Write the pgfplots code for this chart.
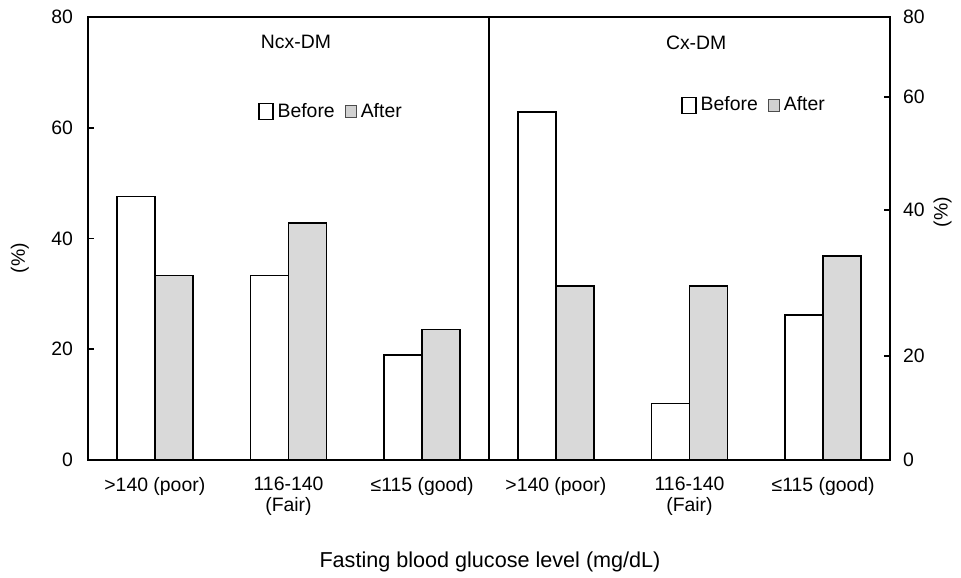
\documentclass[border=0pt]{standalone}
\usepackage{fontspec}
\setmainfont{Liberation Sans}
\usepackage{pgfplots}
\pgfplotsset{compat=1.18}
\newcommand{\tf}{\fontsize{9.7}{10.5}\selectfont}
\begin{document}
\begin{tikzpicture}
\pgfplotsset{
  panel/.style={
    width=200.5pt, height=221.5pt, scale only axis,
    xmin=-0.5, xmax=2.5, ymin=0, ymax=80,
    ybar=0pt, bar width=19pt,
    xtick={0,1,2},
    xticklabels={{>140 (poor)},{116-140\\(Fair)},{≤115 (good)}},
    xticklabel style={align=center, font=\fontsize{9.7}{10.5}\selectfont, yshift=-5pt},
    x tick style={draw=none},
    yticklabel style={font=\tf},
    tick align=inside, major tick length=3pt,
    tick style={line width=0.8pt, black},
    axis line style={line width=1pt},
    /pgf/number format/assume math mode=true,
    legend columns=2,
    legend style={draw=none, fill=none, inner sep=0pt, font=\tf,
      /tikz/every even column/.append style={column sep=3pt}},
  },
  befstyle/.style={draw=black, line width=0.75pt, fill=white,
    legend image code/.code={\draw[draw=black,line width=0.6pt,fill=white] (0pt,-4pt) rectangle (7pt,4pt);}},
  aftstyle/.style={draw=black, line width=0.75pt, fill=black!15,
    legend image code/.code={\draw[draw=black!70,line width=0.5pt,fill=black!18] (0pt,-3pt) rectangle (5.5pt,3pt);}},
}
% left panel
\begin{axis}[panel, at={(0pt,0pt)}, anchor=south west,
  ytick pos=left, ytick={0,20,40,60,80},
  yticklabel style={xshift=-4pt},
  ylabel={(\%)}, ylabel style={font=\tf, at={(axis description cs:-0.17,0.456)}, anchor=center},
  xlabel={Fasting blood glucose level (mg/dL)},
  xlabel style={font=\fontsize{10.8}{12}\selectfont, at={(axis description cs:1.0025,-0.23)}, anchor=center},
  legend style={at={(axis description cs:0.424,0.786)}, anchor=west},
]
\addplot[befstyle] coordinates {(0,47.6) (1,33.3) (2,19.0)};
\addlegendentry{Before}
\addplot[aftstyle] coordinates {(0,33.3) (1,42.8) (2,23.6)};
\addlegendentry{After}
\node[font=\tf] at (axis cs:1.056,75.5) {Ncx-DM};
\end{axis}
% right panel
\begin{axis}[panel, at={(200.5pt,0pt)}, anchor=south west,
  ytick pos=right, yticklabel pos=right,
  ytick={0,18.8,45.1,65.6,80}, yticklabels={0,20,40,60,80},
  yticklabel style={xshift=3pt},
  ylabel={(\%)}, ylabel style={font=\tf, at={(axis description cs:1.131,0.56)}, anchor=center},
  legend style={at={(axis description cs:0.479,0.801)}, anchor=west},
]
\addplot[befstyle] coordinates {(0,62.8) (1,10.2) (2,26.2)};
\addlegendentry{Before}
\addplot[aftstyle] coordinates {(0,31.4) (1,31.4) (2,36.8)};
\addlegendentry{After}
\node[font=\tf] at (axis cs:1.05,75.3) {Cx-DM};
\end{axis}
\pgfresetboundingbox
\path[use as bounding box] (-44pt,-58.5pt) rectangle (436.5pt,230pt);
\end{tikzpicture}
\end{document}
